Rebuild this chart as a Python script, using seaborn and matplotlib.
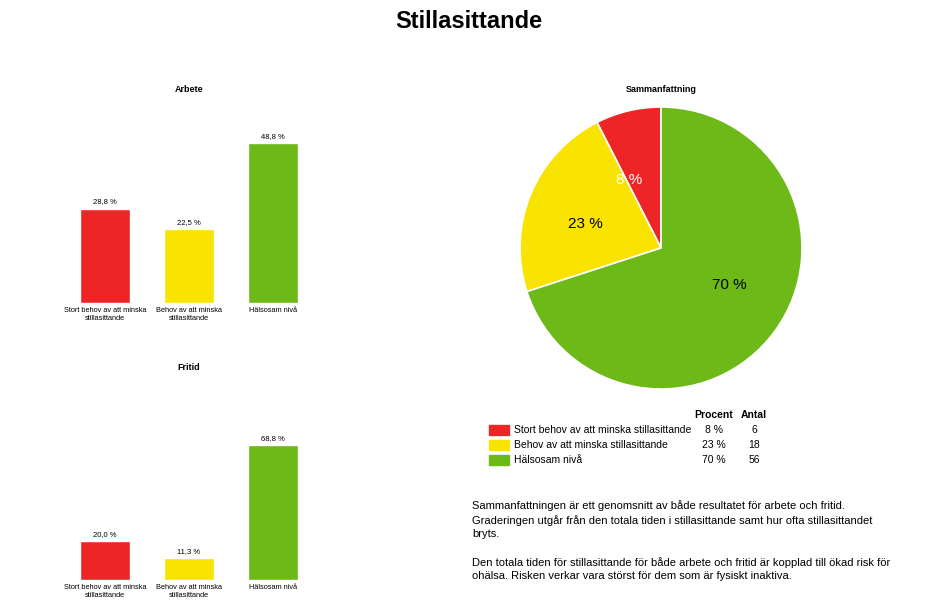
import matplotlib
matplotlib.use("Agg")
import matplotlib.pyplot as plt
import seaborn as sns
import pandas as pd

categories = ["Stort behov av att minska\nstillasittande", "Behov av att minska\nstillasittande", "Hälsosam nivå"]
legend_names = ["Stort behov av att minska stillasittande", "Behov av att minska stillasittande", "Hälsosam nivå"]
arbete = [28.8, 22.5, 48.8]
fritid = [20.0, 11.3, 68.8]
antal = [6, 18, 56]
pie_labels = ["8 %", "23 %", "70 %"]
colors = ["#ee2526", "#f9e300", "#6cb917"]

sns.set_theme(style="white", rc={"text.color": "black", "xtick.color": "black"})
plt.rcParams["font.family"] = ["Liberation Sans", "DejaVu Sans"]

W, H = 937, 607
fig = plt.figure(figsize=(W / 100, H / 100), dpi=100)

def px_axes(x0, y0, x1, y1):
    return fig.add_axes([x0 / W, 1 - y1 / H, (x1 - x0) / W, (y1 - y0) / H])

fig.text(0.5, 1 - 22 / H, "Stillasittande", ha="center", va="center", fontsize=17, fontweight="bold")

def bar_panel(box, vals, ymax, title, title_y):
    ax = px_axes(*box)
    df = pd.DataFrame({"cat": categories, "val": vals})
    sns.barplot(data=df, x="cat", y="val", hue="cat", palette=colors, width=0.6,
                legend=False, ax=ax, saturation=1)
    ax.set_ylim(0, ymax)
    ax.set_xlim(-0.5, 2.5)
    for i, v in enumerate(vals):
        ax.text(i, v + ymax * 0.02, f"{v:.1f} %".replace(".", ","), ha="center", va="bottom", fontsize=5.5)
    ax.set_xlabel("")
    ax.set_ylabel("")
    ax.set_yticks([])
    ax.tick_params(axis="x", labelsize=5.3, length=0, pad=3)
    sns.despine(ax=ax, left=True, bottom=True)
    fig.text((box[0] + box[2]) / 2 / W, 1 - title_y / H, title, ha="center", va="center",
             fontsize=6.5, fontweight="bold")

bar_panel((63, 123, 315, 303), arbete, 55, "Arbete", 90)
bar_panel((63, 433, 315, 580), fritid, 75, "Fritid", 367)

# pie
pax = px_axes(520, 107, 802, 389)
wedges, texts = pax.pie(antal, colors=colors, startangle=90, counterclock=True,
                        labels=pie_labels, labeldistance=0.45,
                        wedgeprops=dict(edgecolor="white", linewidth=1.2),
                        textprops=dict(fontsize=11))
texts[0].set_color("white")
texts[0].set_position((-0.13, 0.48))
pax.set_xlim(-1, 1)
pax.set_ylim(-1, 1)
pax.set_aspect("equal")
fig.text(661 / W, 1 - 90 / H, "Sammanfattning", ha="center", va="center", fontsize=6.5, fontweight="bold")

# legend table
fig.text(714 / W, 1 - 415 / H, "Procent", ha="center", va="center", fontsize=7.5, fontweight="bold")
fig.text(754 / W, 1 - 415 / H, "Antal", ha="center", va="center", fontsize=7.5, fontweight="bold")
for i, (name, n, lab, c) in enumerate(zip(legend_names, antal, pie_labels, colors)):
    y = 430 + i * 15
    fig.patches.append(plt.Rectangle((489 / W, 1 - (y + 5) / H), 20 / W, 10 / H,
                                     transform=fig.transFigure, color=c))
    fig.text(514 / W, 1 - y / H, name, va="center", fontsize=7.5)
    fig.text(714 / W, 1 - y / H, lab, ha="center", va="center", fontsize=7.5)
    fig.text(754 / W, 1 - y / H, str(n), ha="center", va="center", fontsize=7.5)

para = ("Sammanfattningen är ett genomsnitt av både resultatet för arbete och fritid.\n"
        "Graderingen utgår från den totala tiden i stillasittande samt hur ofta stillasittandet\n"
        "bryts.\n\n"
        "Den totala tiden för stillasittande för både arbete och fritid är kopplad till ökad risk för\n"
        "ohälsa. Risken verkar vara störst för dem som är fysiskt inaktiva.")
fig.text(472 / W, 1 - 500 / H, para, va="top", fontsize=8, linespacing=1.45)

fig.savefig("out.png", dpi=100, facecolor="white")
